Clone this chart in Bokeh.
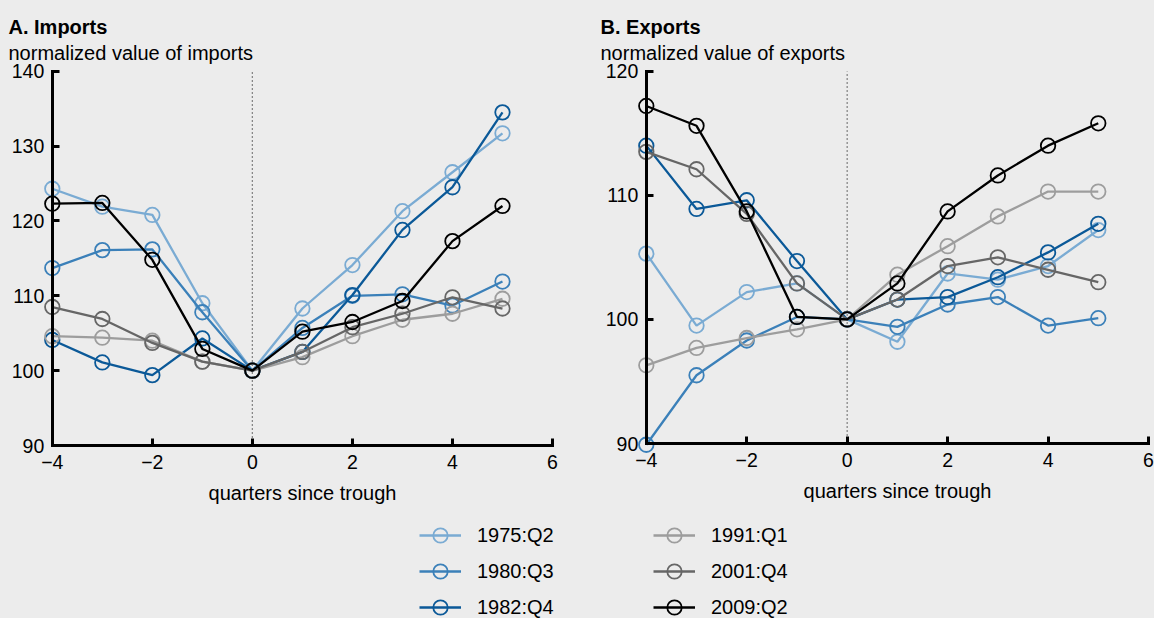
from bokeh.plotting import figure
from bokeh.models import Range1d, FixedTicker, Label, Legend, LegendItem, LinearAxis
from bokeh.layouts import row, column
from bokeh.embed import file_html
from bokeh.resources import INLINE

# ---------------- data ----------------
quarters = [-4, -3, -2, -1, 0, 1, 2, 3, 4, 5]
series_names = ["1975:Q2", "1980:Q3", "1982:Q4", "1991:Q1", "2001:Q4", "2009:Q2"]
series_colors = ["#7aabd3", "#3b80b9", "#0b5998", "#9d9d9d", "#666666", "#000000"]

imp_1975 = [124.3, 121.9, 120.8, 109.0, 100.0, 108.3, 114.1, 121.3, 126.5, 131.7]
imp_1980 = [113.7, 116.1, 116.2, 107.8, 100.0, 105.7, 110.0, 110.2, 108.7, 111.9]
imp_1982 = [104.1, 101.1, 99.4, 104.3, 100.0, 102.5, 110.1, 118.8, 124.5, 134.5]
imp_1991 = [104.6, 104.4, 104.0, 101.2, 100.0, 101.8, 104.6, 106.8, 107.6, 109.6]
imp_2001 = [108.5, 106.9, 103.7, 101.2, 100.0, 102.5, 105.8, 107.6, 109.8, 108.3]
imp_2009 = [122.3, 122.4, 114.8, 102.9, 100.0, 105.2, 106.5, 109.3, 117.3, 122.0]

exp_1975 = [105.3, 99.5, 102.2, 102.9, 100.0, 98.2, 103.7, 103.2, 104.3, 107.2]
exp_1980 = [89.9, 95.5, 98.3, 100.2, 100.0, 99.4, 101.2, 101.8, 99.5, 100.1]
exp_1982 = [114.0, 108.9, 109.6, 104.7, 100.0, 101.6, 101.8, 103.4, 105.4, 107.7]
exp_1991 = [96.3, 97.7, 98.5, 99.2, 100.0, 103.6, 105.9, 108.3, 110.3, 110.3]
exp_2001 = [113.5, 112.1, 108.5, 102.9, 100.0, 101.6, 104.3, 105.0, 104.0, 103.0]
exp_2009 = [117.2, 115.6, 108.7, 100.2, 100.0, 102.9, 108.7, 111.6, 114.0, 115.8]

x_ticks = [-4, -2, 0, 2, 4, 6]
x_tick_labels = {-4: "\u22124", -2: "\u22122"}
imp_y_ticks = [90, 100, 110, 120, 130, 140]
exp_y_ticks = [90, 100, 110, 120]
x_label = "quarters since trough"

imports = [imp_1975, imp_1980, imp_1982, imp_1991, imp_2001, imp_2009]
exports = [exp_1975, exp_1980, exp_1982, exp_1991, exp_2001, exp_2009]

# ---------------- style ----------------
BG = "#ececec"
FONT = "Liberation Sans"
H = 508


def span_range(v0, p0, v1, p1, size):
    """values at pixel 0 and pixel `size` for a linear map v0->p0, v1->p1"""
    s = (v1 - v0) / (p1 - p0)
    return v0 - p0 * s, v0 + (size - p0) * s


def make_panel(title, subtitle, data, y_ticks, width, xpix, ypix, title_x):
    x0, x1 = span_range(x_ticks[0], xpix[0], x_ticks[-1], xpix[1], width)
    ytop, ybot = span_range(y_ticks[-1], ypix[0], y_ticks[0], ypix[1], H)
    p = figure(width=width, height=H, x_range=Range1d(x0, x1), y_range=Range1d(ybot, ytop),
               output_backend="svg", toolbar_location=None, min_border=0,
               x_axis_type=None, y_axis_type=None,
               background_fill_color=BG, border_fill_color=BG, outline_line_color=None)

    xa = LinearAxis(fixed_location=y_ticks[0], bounds=(x_ticks[0], x_ticks[-1]),
                    ticker=FixedTicker(ticks=x_ticks), major_label_overrides=x_tick_labels,
                    axis_label=x_label)
    ya = LinearAxis(fixed_location=x_ticks[0], bounds=(y_ticks[0], y_ticks[-1]),
                    ticker=FixedTicker(ticks=y_ticks))
    for ax in (xa, ya):
        ax.axis_line_width = 3
        ax.axis_line_color = "black"
        ax.axis_line_cap = "square"
        ax.major_tick_in = 7
        ax.major_tick_out = 0
        ax.major_tick_line_width = 3
        ax.minor_tick_in = 0
        ax.minor_tick_out = 0
        ax.major_label_text_font = FONT
        ax.major_label_text_font_size = "19.5px"
        ax.major_label_text_color = "black"
        ax.axis_label_text_font = FONT
        ax.axis_label_text_font_size = "20px"
        ax.axis_label_text_font_style = "normal"
        ax.axis_label_text_color = "black"
    xa.major_label_standoff = 9
    xa.axis_label_standoff = 10
    ya.major_label_standoff = 8
    p.add_layout(xa, "below")
    p.add_layout(ya, "left")

    # dotted reference line at the trough
    p.segment(x0=[0], y0=[y_ticks[0]], x1=[0], y1=[y_ticks[-1]],
              line_color="#222222", line_width=1.3, line_dash="1 3")

    for vals, c in zip(data, series_colors):
        p.line(quarters, vals, line_color=c, line_width=2.3)
        p.scatter(quarters, vals, marker="circle", size=14.5, line_color=c,
                  line_width=1.8, fill_color=None)

    p.add_layout(Label(x=title_x, y=H - 26, x_units="screen", y_units="screen", text=title,
                       text_font=FONT, text_font_size="20px", text_font_style="bold",
                       text_color="black", text_baseline="alphabetic"))
    p.add_layout(Label(x=title_x, y=H - 52, x_units="screen", y_units="screen", text=subtitle,
                       text_font=FONT, text_font_size="20px", text_font_style="normal",
                       text_color="black", text_baseline="alphabetic"))
    return p


pa = make_panel("A. Imports", "normalized value of imports", imports, imp_y_ticks,
                598, (51.8, 552.0), (70.7, 445.0), 8)
pb = make_panel("B. Exports", "normalized value of exports", exports, exp_y_ticks,
                556, (47.8, 550.0), (70.7, 443.0), 2)

# ---------------- legend ----------------
lf = figure(width=1154, height=110, x_range=Range1d(-4, 6), y_range=Range1d(90, 140),
            output_backend="svg", toolbar_location=None, min_border=0,
            x_axis_type=None, y_axis_type=None,
            background_fill_color=BG, border_fill_color=BG, outline_line_color=None)
items = []
for name, vals, c in zip(series_names, imports, series_colors):
    lr = lf.line(quarters, vals, line_color=c, line_width=2.3, visible=False)
    sr = lf.scatter(quarters, vals, marker="circle", size=14.5, line_color=c,
                    line_width=1.8, fill_color=None, visible=False)
    items.append(LegendItem(label=name, renderers=[lr, sr]))

legend = Legend(items=items, location=(419, -7), orientation="vertical", nrows=3,
                glyph_width=42, glyph_height=36, label_standoff=16, label_width=176,
                label_height=23, spacing=0, padding=0, margin=0,
                border_line_color=None, background_fill_alpha=0,
                label_text_font=FONT, label_text_font_size="20px", label_text_color="black")
lf.add_layout(legend)

p = column(row(pa, pb), lf)

template = "{% block preamble %}<style>html, body { background: #ececec !important; }</style>{% endblock %}"
open("out.html", "w").write(file_html(p, INLINE, template=template))
